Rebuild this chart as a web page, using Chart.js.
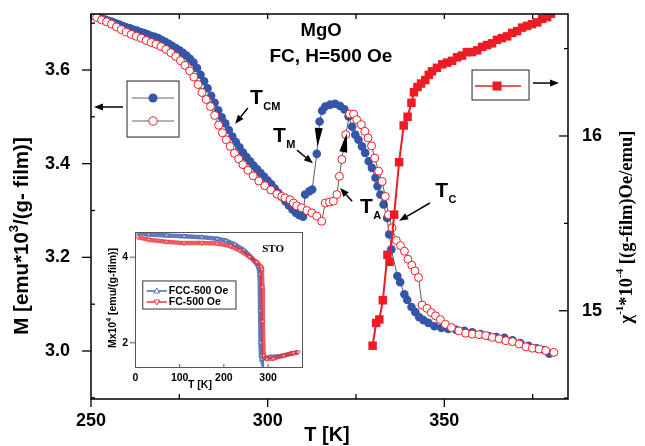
<!DOCTYPE html>
<html>
<head>
<meta charset="utf-8">
<script src="https://cdn.jsdelivr.net/npm/chart.js@4"></script>
<style>
  html, body { margin: 0; padding: 0; background: #fff; }
  #wrap { position: relative; width: 645px; height: 446px; }
  #main { position: absolute; left: 0; top: 0; }
  #inset { position: absolute; left: 100px; top: 222px; }
</style>
</head>
<body>
<div id="wrap">
  <canvas id="main" width="645" height="446"></canvas>
  <canvas id="inset" width="212" height="172"></canvas>
</div>
<script>
// --- main plot data: M (FCC, filled) ---
const tBlue = [250.5, 252, 253, 254, 255, 256, 257, 258, 259, 260, 261, 262, 263, 264, 265, 266, 267, 268, 269, 270,
  271, 272, 273, 274, 275, 276, 277, 278, 279, 280, 281, 282, 283, 284, 285, 286, 287, 288, 289, 290,
  291, 292, 293, 294, 295, 296, 297, 298, 299, 300, 301, 302, 303, 304, 305, 306, 307, 308, 309, 310,
  310.6, 311.8, 312.6, 313.9, 314.7, 315.4, 316.3, 317.7, 319.1, 320.5, 321.7, 322.9, 323.9, 324.8, 325.7,
  326.7, 327.6, 328.6, 329.5, 330.5, 331.1, 331.9, 332.8, 333.8, 334.4, 335.0, 336.7, 337.5, 338.7, 339.5,
  340.7, 341.8, 342.9, 344.1, 345.5, 347.2, 349.2, 351.1, 353.4, 355.7, 357.9, 360.2, 362.5, 364.7, 367.0,
  369.3, 371.5, 373.8, 376.1, 378.3, 379.7];
const mBlue = [3.717, 3.713, 3.710, 3.708, 3.705, 3.703, 3.700, 3.697, 3.694, 3.691, 3.689, 3.686, 3.684, 3.681, 3.679, 3.676, 3.673, 3.671, 3.668, 3.664,
  3.660, 3.656, 3.651, 3.647, 3.642, 3.637, 3.631, 3.624, 3.616, 3.604, 3.590, 3.576, 3.561, 3.545, 3.530, 3.514, 3.499, 3.486, 3.472, 3.458,
  3.446, 3.435, 3.424, 3.414, 3.405, 3.396, 3.388, 3.380, 3.372, 3.364, 3.356, 3.347, 3.338, 3.329, 3.320, 3.311, 3.302, 3.295, 3.290, 3.287,
  3.334, 3.341, 3.345, 3.421, 3.490, 3.513, 3.522, 3.526, 3.528, 3.523, 3.516, 3.501, 3.479, 3.462, 3.451,
  3.437, 3.423, 3.405, 3.391, 3.370, 3.352, 3.334, 3.313, 3.284, 3.249, 3.217, 3.160, 3.147, 3.121, 3.109,
  3.094, 3.083, 3.072, 3.066, 3.060, 3.053, 3.049, 3.047, 3.045, 3.043, 3.040, 3.036, 3.032, 3.030, 3.028,
  3.023, 3.017, 3.011, 3.006, 3.002, 2.994];

// --- M (FC, open) ---
const tRed = [250.3, 251.6, 253.0, 254.4, 255.8, 257.2, 258.6, 260.0, 261.4, 262.8, 264.2, 265.6, 267.0, 268.4, 269.8,
  271.2, 272.6, 274.0, 275.3, 276.6, 277.9, 279.1, 280.3, 281.4, 282.6, 283.8, 285.0, 286.1, 287.2, 288.3,
  289.4, 290.6, 291.8, 293.0, 294.4, 295.9, 297.5, 299.2, 300.9, 302.6, 304.0, 304.9, 306.3, 307.3, 308.2,
  309.6, 311.1, 312.5, 313.9, 315.3, 316.3, 317.5, 318.6, 319.6, 320.3, 321.0, 322.1, 323.2, 324.3, 325.2,
  326.5, 327.5, 328.4, 329.4, 330.3, 331.4, 332.4, 333.3, 334.2, 335.2, 336.4, 337.6, 338.7, 339.7, 340.8,
  341.7, 342.7, 343.7, 345.1, 346.3, 347.5, 348.9, 350.3, 352.0, 354.1, 356.0, 357.9, 359.8, 361.7, 363.6,
  365.5, 367.4, 369.3, 371.2, 373.1, 374.9, 376.8, 378.7, 381.0];
const mRed = [3.716, 3.712, 3.707, 3.703, 3.698, 3.692, 3.686, 3.681, 3.676, 3.672, 3.668, 3.663, 3.659, 3.655, 3.650,
  3.644, 3.637, 3.629, 3.620, 3.610, 3.598, 3.585, 3.569, 3.552, 3.537, 3.522, 3.503, 3.482, 3.466, 3.451,
  3.437, 3.422, 3.410, 3.398, 3.386, 3.374, 3.363, 3.353, 3.344, 3.335, 3.330, 3.327, 3.323, 3.316, 3.310,
  3.306, 3.300, 3.295, 3.288, 3.277, 3.316, 3.318, 3.320, 3.334, 3.373, 3.409, 3.462, 3.506, 3.506, 3.494,
  3.483, 3.469, 3.455, 3.438, 3.412, 3.384, 3.362, 3.330, 3.291, 3.263, 3.236, 3.225, 3.213, 3.196, 3.183,
  3.171, 3.157, 3.098, 3.091, 3.082, 3.075, 3.067, 3.057, 3.050, 3.043, 3.038, 3.036, 3.035, 3.033, 3.029,
  3.026, 3.022, 3.020, 3.015, 3.009, 3.006, 3.004, 3.001, 2.997];

// --- inverse susceptibility (right axis) ---
const tChi = [329.7, 330.7, 331.6, 332.6, 333.9, 334.5, 335.8, 337.2, 338.5, 339.6, 340.7, 341.4, 342.4, 343.4, 344.6,
  345.6, 346.5, 347.9, 349.4, 350.8, 352.2, 353.6, 355.0, 356.4, 357.8, 359.3, 360.7, 362.1, 363.5, 364.9,
  366.3, 367.8, 369.2, 370.6, 372.0, 373.4, 374.8, 376.3, 377.7, 379.1, 380.2];
const chi = [14.80, 14.93, 14.95, 15.06, 15.32, 15.28, 15.55, 15.85, 16.06, 16.11, 16.19, 16.25, 16.28, 16.30, 16.32,
  16.35, 16.37, 16.39, 16.41, 16.42, 16.43, 16.45, 16.46, 16.48, 16.48, 16.49, 16.51, 16.52, 16.53, 16.55,
  16.56, 16.57, 16.59, 16.60, 16.62, 16.63, 16.64, 16.65, 16.67, 16.68, 16.70];

// --- ticks ---
const xTicks = [250, 300, 350];
const xMinor = [275, 325, 375];
const yTicks = [3.0, 3.2, 3.4, 3.6];
const yMinor = [2.9, 3.1, 3.3, 3.5, 3.7];
const y2Ticks = [15, 16];
const y2Minor = [14.5, 15.5, 16.5];

// --- inset (STO) data ---
const tFCC = [5, 30, 70, 110, 150, 185, 205, 225, 245, 260, 270, 278, 281, 282, 283, 284, 286, 292, 305, 330, 350, 365];
const mFCC = [4.57, 4.53, 4.51, 4.49, 4.47, 4.43, 4.39, 4.30, 4.17, 4.02, 3.90, 3.78, 3.60, 2.75, 2.00, 1.70, 1.62, 1.64, 1.67, 1.69, 1.74, 1.77];
const tFC = [5, 30, 70, 110, 150, 185, 215, 236, 258, 274, 284, 286, 287, 288, 290, 297, 312, 335, 357, 368];
const mFC = [4.47, 4.41, 4.36, 4.33, 4.33, 4.32, 4.26, 4.16, 4.01, 3.89, 3.78, 3.72, 3.30, 2.50, 1.70, 1.62, 1.63, 1.70, 1.76, 1.78];
const insetXTicks = [0, 100, 200, 300];
const insetYTicks = [2, 4];

const BLUE = '#3356a8';
const RED = '#ec1c24';
const SANS = '"Liberation Sans", Arial, sans-serif';
const SERIF = '"Liberation Serif", "Times New Roman", serif';

const pts = (xs, ys) => xs.map((v, i) => ({ x: v, y: ys[i] }));
// keep the plot box exactly where the fixed axis sizes put it
const noPad = s => { s.paddingTop = 0; s.paddingBottom = 0; s.paddingLeft = 0; s.paddingRight = 0; };

// text with sub/superscript pieces: [[text, 'sup'|'sub'|null], ...]
function rich(ctx, parts, x, y, size, family, align) {
  const fonts = parts.map(p => `bold ${p[1] ? Math.round(size * 0.62) : size}px ${family}`);
  let w = 0;
  const ws = parts.map((p, i) => { ctx.font = fonts[i]; const m = ctx.measureText(p[0]).width; w += m; return m; });
  let cx = align === 'center' ? x - w / 2 : x;
  parts.forEach((p, i) => {
    ctx.font = fonts[i];
    const dy = p[1] === 'sup' ? -size * 0.38 : p[1] === 'sub' ? size * 0.3 : 0;
    ctx.fillText(p[0], cx, y + dy);
    cx += ws[i];
  });
}

function arrow(ctx, x1, y1, x2, y2, len, wid) {
  const a = Math.atan2(y2 - y1, x2 - x1);
  const bx = x2 - len * Math.cos(a), by = y2 - len * Math.sin(a);
  ctx.beginPath(); ctx.moveTo(x1, y1); ctx.lineTo(bx, by); ctx.stroke();
  ctx.beginPath(); ctx.moveTo(x2, y2);
  ctx.lineTo(bx + wid / 2 * Math.sin(a), by - wid / 2 * Math.cos(a));
  ctx.lineTo(bx - wid / 2 * Math.sin(a), by + wid / 2 * Math.cos(a));
  ctx.closePath(); ctx.fill();
}

// annotations in data units (T, M)
const notes = [
  { sub: 'CM', at: [295.0, 3.527], from: [294.4, 3.519], to: [290.8, 3.485] },
  { sub: 'M', at: [301.5, 3.446], from: [308.3, 3.429], to: [312.8, 3.401] },
  { sub: 'A', at: [326.1, 3.295], from: [323.9, 3.320], to: [320.5, 3.348] },
  { sub: 'C', at: [347.4, 3.329], from: [345.9, 3.316], to: [337.2, 3.278] }
];

const mainDeco = {
  id: 'mainDeco',
  afterDraw(chart) {
    const { ctx, chartArea: a, scales: { x, y, y2 } } = chart;
    const px = v => x.getPixelForValue(v), py = v => y.getPixelForValue(v), py2 = v => y2.getPixelForValue(v);
    ctx.save();
    ctx.strokeStyle = '#000'; ctx.fillStyle = '#000';
    ctx.lineWidth = 1.5;
    ctx.strokeRect(a.left, a.top, a.right - a.left, a.bottom - a.top);

    const tick = (x1, y1, x2, y2) => { ctx.beginPath(); ctx.moveTo(x1, y1); ctx.lineTo(x2, y2); ctx.stroke(); };
    ctx.lineWidth = 1.3;
    xTicks.forEach(v => tick(px(v), a.bottom, px(v), a.bottom + 8));
    xMinor.forEach(v => tick(px(v), a.bottom, px(v), a.bottom - 5));
    xTicks.concat(xMinor).forEach(v => tick(px(v), a.top, px(v), a.top + 5));
    yTicks.forEach(v => tick(a.left - 9, py(v), a.left, py(v)));
    yMinor.forEach(v => tick(a.left, py(v), a.left + 4, py(v)));
    y2Ticks.forEach(v => tick(a.right - 9, py2(v), a.right, py2(v)));
    y2Minor.forEach(v => tick(a.right - 4, py2(v), a.right, py2(v)));

    // axis titles
    ctx.textBaseline = 'middle';
    ctx.save();
    ctx.translate(22, 236); ctx.rotate(-Math.PI / 2);
    rich(ctx, [['M [emu*10', null], ['3', 'sup'], ['/(g- film)]', null]], 0, 0, 20.5, SANS, 'center');
    ctx.restore();
    ctx.save();
    ctx.translate(627, 227); ctx.rotate(-Math.PI / 2);
    rich(ctx, [['\u03c7', null], ['-1', 'sup'], ['*10', null], ['-4', 'sup'], [' [(g-film)Oe/emu]', null]], 0, 0, 18.5, SERIF, 'center');
    ctx.restore();
    rich(ctx, [['T [K]', null]], 327, 435, 20, SANS, 'center');

    // sample title
    rich(ctx, [['MgO', null]], px(315.1), py(3.683), 18.5, SANS, 'center');
    rich(ctx, [['FC, H=500 Oe', null]], px(317.9), py(3.628), 19, SANS, 'center');

    // transition labels with arrows
    ctx.lineWidth = 1.5;
    ctx.textBaseline = 'alphabetic';
    notes.forEach(n => {
      ctx.font = `bold 21px ${SANS}`;
      const X = px(n.at[0]), Y = py(n.at[1]);
      ctx.fillText('T', X, Y);
      const w = ctx.measureText('T').width;
      ctx.font = `bold 11px ${SANS}`;
      ctx.fillText(n.sub, X + w + 0.5, Y + 6);
      arrow(ctx, px(n.from[0]), py(n.from[1]), px(n.to[0]), py(n.to[1]), 9, 7);
    });

    // direction heads on the connecting lines
    const head = (b, t) => {
      const bx = px(b[0]), by = py(b[1]), tx = px(t[0]), ty = py(t[1]);
      arrow(ctx, bx, by, tx, ty, Math.hypot(tx - bx, ty - by), 8);
    };
    head([314.45, 3.476], [314.11, 3.436]);
    head([321.41, 3.425], [322.37, 3.465]);

    // left legend box + arrow to left axis
    ctx.lineWidth = 1;
    ctx.strokeStyle = '#222';
    ctx.strokeRect(px(260.19), py(3.5765), px(274.91) - px(260.19), py(3.4569) - py(3.5765));
    ctx.strokeStyle = '#666';
    [3.5402, 3.4911].forEach(m => tick(px(261.6), py(m), px(273.5), py(m)));
    ctx.fillStyle = BLUE;
    ctx.beginPath(); ctx.arc(px(267.55), py(3.5402), 4.5, 0, Math.PI * 2); ctx.fill();
    ctx.fillStyle = '#fff'; ctx.strokeStyle = RED;
    ctx.beginPath(); ctx.arc(px(267.55), py(3.4911), 4.2, 0, Math.PI * 2); ctx.fill(); ctx.stroke();
    ctx.fillStyle = '#000'; ctx.strokeStyle = '#000'; ctx.lineWidth = 1.5;
    arrow(ctx, px(259.06), py(3.521), px(250.85), py(3.521), 9, 7);

    // right legend box + arrow to right axis
    ctx.lineWidth = 1;
    ctx.strokeStyle = '#222';
    ctx.strokeRect(px(357.84), py(3.600), px(373.97) - px(357.84), py(3.536) - py(3.600));
    ctx.strokeStyle = RED; ctx.lineWidth = 1.5;
    tick(px(358.7), py(3.5658), px(371.7), py(3.5658));
    ctx.fillStyle = RED;
    ctx.fillRect(px(364.92) - 4.5, py(3.5658) - 4.5, 9, 9);
    ctx.fillStyle = '#000'; ctx.strokeStyle = '#000';
    arrow(ctx, px(375.1), py(3.5722), px(382.46), py(3.5722), 9, 7);
    ctx.restore();
  }
};

const tickFont = { family: SANS, size: 18, weight: 'bold' };

new Chart(document.getElementById('main'), {
  type: 'scatter',
  data: {
    datasets: [
      { data: pts(tChi, chi), yAxisID: 'y2', showLine: true, borderColor: RED, borderWidth: 2,
        pointStyle: 'rect', pointRadius: 6, pointBackgroundColor: RED, pointBorderColor: RED, pointBorderWidth: 0 },
      { data: pts(tRed, mRed), yAxisID: 'y', showLine: true, borderColor: '#333', borderWidth: 0.8,
        pointRadius: 4, pointBackgroundColor: '#fff', pointBorderColor: RED, pointBorderWidth: 1 },
      { data: pts(tBlue, mBlue), yAxisID: 'y', showLine: true, borderColor: '#333', borderWidth: 0.8,
        pointRadius: 4.3, pointBackgroundColor: BLUE, pointBorderColor: BLUE, pointBorderWidth: 0 }
    ]
  },
  options: {
    responsive: false,
    animation: false,
    devicePixelRatio: 1,
    layout: { padding: { top: 14, left: 0, right: 0, bottom: 0 } },
    plugins: { legend: { display: false }, tooltip: { enabled: false } },
    elements: { line: { tension: 0 } },
    scales: {
      x: {
        type: 'linear', min: 250, max: 385,
        afterFit: s => { s.height = 47; noPad(s); },
        afterBuildTicks: s => { s.ticks = xTicks.map(v => ({ value: v })); },
        grid: { display: false, drawTicks: false }, border: { display: false },
        ticks: { font: tickFont, color: '#000', padding: 11, autoSkip: false, maxRotation: 0 }
      },
      y: {
        position: 'left', min: 2.8975, max: 3.7196,
        afterFit: s => { s.width = 91; noPad(s); },
        afterBuildTicks: s => { s.ticks = yTicks.map(v => ({ value: v })); },
        grid: { display: false, drawTicks: false }, border: { display: false },
        ticks: { font: tickFont, color: '#000', padding: 21, callback: v => v.toFixed(1) }
      },
      y2: {
        position: 'right', min: 14.495, max: 16.698,
        afterFit: s => { s.width = 77; noPad(s); },
        afterBuildTicks: s => { s.ticks = y2Ticks.map(v => ({ value: v })); },
        grid: { display: false, drawTicks: false }, border: { display: false },
        ticks: { font: tickFont, color: '#000', padding: 14, callback: v => String(v) }
      }
    }
  },
  plugins: [mainDeco]
});

// ---------------- inset ----------------
const insetDeco = {
  id: 'insetDeco',
  beforeDraw(chart) {
    const { ctx, chartArea: a } = chart;
    ctx.save(); ctx.fillStyle = '#fff';
    ctx.fillRect(a.left, a.top, a.right - a.left, a.bottom - a.top);
    ctx.restore();
  },
  afterDraw(chart) {
    const { ctx, chartArea: a, scales: { x, y } } = chart;
    const px = v => x.getPixelForValue(v), py = v => y.getPixelForValue(v);
    const line = (x1, y1, x2, y2) => { ctx.beginPath(); ctx.moveTo(x1, y1); ctx.lineTo(x2, y2); ctx.stroke(); };
    ctx.save();
    ctx.strokeStyle = '#555'; ctx.lineWidth = 1;
    ctx.strokeRect(a.left + 0.5, a.top + 0.5, a.right - a.left - 1, a.bottom - a.top - 1);
    insetXTicks.forEach(v => line(px(v), a.bottom, px(v), a.bottom - 4));
    insetYTicks.forEach(v => line(a.left - 5, py(v), a.left, py(v)));

    ctx.fillStyle = '#000'; ctx.textBaseline = 'middle';
    ctx.save();
    ctx.translate(a.left - 22, (a.top + a.bottom) / 2 - 2); ctx.rotate(-Math.PI / 2);
    rich(ctx, [['Mx10', null], ['4', 'sup'], [' [emu/(g-film)]', null]], 0, 0, 10.5, SANS, 'center');
    ctx.restore();
    rich(ctx, [['T [K]', null]], px(146), a.bottom + 17, 10.5, SANS, 'center');
    rich(ctx, [['STO', null]], px(311.3), py(4.194), 11, SERIF, 'center');

    // legend
    ctx.strokeStyle = '#333';
    ctx.strokeRect(px(16.55), py(3.445), px(227.4) - px(16.55), py(2.789) - py(3.445));
    const rows = [[3.211, BLUE, 'FCC-500 Oe', 0], [2.953, RED, 'FC-500 Oe', Math.PI]];
    rows.forEach(r => {
      ctx.strokeStyle = r[1]; ctx.lineWidth = 1.3;
      line(px(25.6), py(r[0]), px(71), py(r[0]));
      ctx.save();
      ctx.translate(px(48.3), py(r[0])); ctx.rotate(r[3]);
      ctx.fillStyle = '#fff'; ctx.lineWidth = 0.8;
      ctx.beginPath(); ctx.moveTo(0, -3); ctx.lineTo(2.8, 2); ctx.lineTo(-2.8, 2); ctx.closePath();
      ctx.fill(); ctx.stroke();
      ctx.restore();
      ctx.fillStyle = '#000';
      rich(ctx, [[r[2], null]], px(75.5), py(r[0]), 10.5, SANS, 'left');
    });
    ctx.restore();
  }
};

const insetFont = { family: SANS, size: 10.5, weight: 'bold' };

new Chart(document.getElementById('inset'), {
  type: 'scatter',
  data: {
    datasets: [
      { data: pts(tFC, mFC), showLine: true, borderColor: 'rgba(232,50,58,0.8)', borderWidth: 4.5,
        pointStyle: 'triangle', rotation: 180, pointRadius: 2.5, pointBackgroundColor: 'rgba(255,255,255,0.6)',
        pointBorderColor: RED, pointBorderWidth: 0.7 },
      { data: pts(tFCC, mFCC), showLine: true, borderColor: 'rgba(55,90,170,0.8)', borderWidth: 4.5,
        pointStyle: 'triangle', pointRadius: 2.5, pointBackgroundColor: 'rgba(255,255,255,0.6)',
        pointBorderColor: BLUE, pointBorderWidth: 0.7 }
    ]
  },
  options: {
    responsive: false,
    animation: false,
    devicePixelRatio: 1,
    layout: { padding: { top: 10, right: 9, left: 0, bottom: 0 } },
    plugins: { legend: { display: false }, tooltip: { enabled: false } },
    elements: { line: { tension: 0 } },
    scales: {
      x: {
        type: 'linear', min: -1, max: 379,
        afterFit: s => { s.height = 26; noPad(s); },
        afterBuildTicks: s => { s.ticks = insetXTicks.map(v => ({ value: v })); },
        grid: { display: false, drawTicks: false }, border: { display: false },
        ticks: { font: insetFont, color: '#000', padding: 4, autoSkip: false, maxRotation: 0 }
      },
      y: {
        min: 1.41, max: 4.59,
        afterFit: s => { s.width = 35; noPad(s); },
        afterBuildTicks: s => { s.ticks = insetYTicks.map(v => ({ value: v })); },
        grid: { display: false, drawTicks: false }, border: { display: false },
        ticks: { font: insetFont, color: '#000', padding: 7 }
      }
    }
  },
  plugins: [insetDeco]
});
</script>
</body>
</html>
